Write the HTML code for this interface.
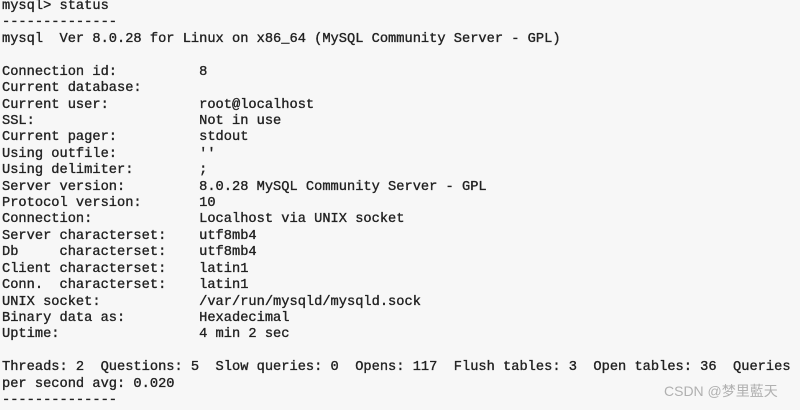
<!DOCTYPE html>
<html><head><meta charset="utf-8"><style>
html,body{margin:0;padding:0;background:#f7f7f7;width:800px;height:407px;overflow:hidden}
pre{margin:0;position:absolute;left:2px;top:-1px;font-family:"Liberation Mono",monospace;font-size:13.7px;line-height:16.42px;color:#222;font-weight:normal;-webkit-text-stroke:0.35px #222}
.w{position:absolute;left:664px;top:381px;font-family:"Liberation Sans","Noto Sans CJK SC",sans-serif;font-size:14px;color:#b0b0b0}
</style></head><body>
<pre>mysql&gt; status
--------------
mysql  Ver 8.0.28 for Linux on x86_64 (MySQL Community Server - GPL)

Connection id:          8
Current database:
Current user:           root@localhost
SSL:                    Not in use
Current pager:          stdout
Using outfile:          ''
Using delimiter:        ;
Server version:         8.0.28 MySQL Community Server - GPL
Protocol version:       10
Connection:             Localhost via UNIX socket
Server characterset:    utf8mb4
Db     characterset:    utf8mb4
Client characterset:    latin1
Conn.  characterset:    latin1
UNIX socket:            /var/run/mysqld/mysqld.sock
Binary data as:         Hexadecimal
Uptime:                 4 min 2 sec

Threads: 2  Questions: 5  Slow queries: 0  Opens: 117  Flush tables: 3  Open tables: 36  Queries
per second avg: 0.020
--------------</pre>
<div class="w">CSDN @梦里藍天</div>
</body></html>
